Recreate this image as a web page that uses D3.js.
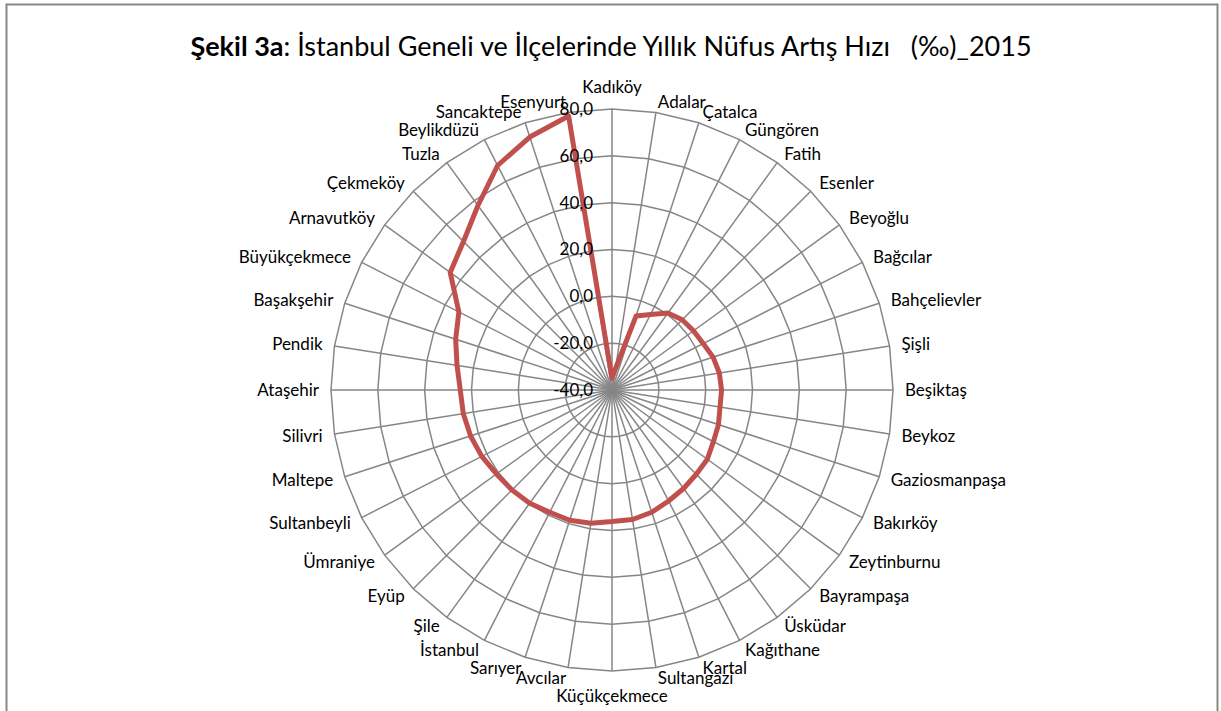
<!DOCTYPE html>
<html>
<head>
<meta charset="utf-8">
<script src="https://cdn.jsdelivr.net/npm/d3@7"></script>
<style>
  body { margin: 0; background: #fff; }
  svg text { font-family: Lato, "Liberation Sans", sans-serif; fill: #000; }
</style>
</head>
<body>
<div id="chart"></div>
<script>
// districts, clockwise from the top
const districts = ["Kadıköy", "Adalar", "Çatalca", "Güngören", "Fatih", "Esenler", "Beyoğlu", "Bağcılar",
  "Bahçelievler", "Şişli", "Beşiktaş", "Beykoz", "Gaziosmanpaşa", "Bakırköy", "Zeytinburnu", "Bayrampaşa",
  "Üsküdar", "Kağıthane", "Kartal", "Sultangazi", "Küçükçekmece", "Avcılar", "Sarıyer", "İstanbul",
  "Şile", "Eyüp", "Ümraniye", "Sultanbeyli", "Maltepe", "Silivri", "Ataşehir", "Pendik",
  "Başakşehir", "Büyükçekmece", "Arnavutköy", "Çekmeköy", "Tuzla", "Beylikdüzü", "Sancaktepe", "Esenyurt"];

// annual growth rate (per mille), 2015
const growth = [-35, -31, -6.8, -3.8, 0.6, 2.4, 3.0, 3.7,
  5.4, 6.4, 6.8, 6.7, 7.8, 8.6, 10.3, 10.9,
  12.0, 13.2, 14.9, 16.0, 16.2, 17.6, 18.5, 18.6,
  19.8, 20.4, 21.0, 22.4, 23.5, 24.3, 24.8, 27.0,
  30.2, 33.4, 45.4, 49.7, 57.4, 67.6, 73.6, 78.5];

const ticks = [-40, -20, 0, 20, 40, 60, 80];

const width = 1221, height = 711;
const cx = 612, cy = 390, R = 281;

const svg = d3.select("#chart").append("svg")
  .attr("width", width)
  .attr("height", height);

// outer frame
svg.append("rect")
  .attr("x", 6.5).attr("y", 4.5)
  .attr("width", 1211).attr("height", 730)
  .attr("fill", "none")
  .attr("stroke", "#878787")
  .attr("stroke-width", 2);

// title
const title = svg.append("text")
  .attr("x", 611).attr("y", 56)
  .attr("text-anchor", "middle")
  .attr("font-size", 27)
  .style("white-space", "pre");
title.append("tspan").attr("font-weight", "bold").text("Şekil 3a");
title.append("tspan").text(": İstanbul Geneli ve İlçelerinde Yıllık Nüfus Artış Hızı   (‰)_2015");

const r = d3.scaleLinear().domain([-40, 80]).range([0, R]);
const angle = d3.scaleLinear().domain([0, districts.length]).range([0, 2 * Math.PI]);

const g = svg.append("g").attr("transform", `translate(${cx},${cy})`);

// polygon grid rings
const ring = d3.lineRadial()
  .angle((d, i) => angle(i))
  .curve(d3.curveLinearClosed);

g.selectAll(".ring")
  .data(ticks.slice(1))
  .join("path")
  .attr("class", "ring")
  .attr("d", t => ring.radius(r(t))(districts))
  .attr("fill", "none")
  .attr("stroke", "#868686")
  .attr("stroke-width", 1.5);

// spokes
g.selectAll(".spoke")
  .data(districts)
  .join("line")
  .attr("class", "spoke")
  .attr("x1", 0).attr("y1", 0)
  .attr("x2", (d, i) => R * Math.sin(angle(i)))
  .attr("y2", (d, i) => -R * Math.cos(angle(i)))
  .attr("stroke", "#868686")
  .attr("stroke-width", 1.5);

// series
const line = d3.lineRadial()
  .angle((d, i) => angle(i))
  .radius(d => r(d))
  .curve(d3.curveLinearClosed);

g.append("path")
  .datum(growth)
  .attr("d", line)
  .attr("fill", "none")
  .attr("stroke", "#C0504D")
  .attr("stroke-width", 5)
  .attr("stroke-linejoin", "round");

// category labels
g.selectAll(".cat")
  .data(districts)
  .join("text")
  .attr("class", "cat")
  .attr("font-size", 17)
  .attr("dy", "0.35em")
  .each(function (d, i) {
    const a = angle(i);
    const s = Math.sin(a), c = Math.cos(a);
    const vx = R * s, vy = -R * c;
    let x = vx + 12 * s, y = vy - 11 * c;
    let anchor = "middle";
    if (Math.abs(s) < 1e-6) {
      y = vy - c * (c > 0 ? 22 : 25);
    } else {
      anchor = s > 0 ? "start" : "end";
    }
    d3.select(this)
      .attr("x", x).attr("y", y)
      .attr("text-anchor", anchor)
      .text(d);
  });

// value axis labels
g.selectAll(".tick")
  .data(ticks)
  .join("text")
  .attr("class", "tick")
  .attr("font-size", 17)
  .attr("x", -19)
  .attr("y", t => -r(t))
  .attr("dy", "0.35em")
  .attr("text-anchor", "end")
  .text(t => d3.format(".1f")(t).replace(".", ",").replace("−", "-"));
</script>
</body>
</html>
